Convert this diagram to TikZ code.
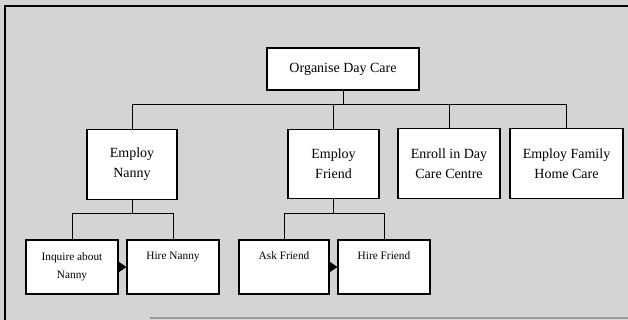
\documentclass[tikz,border=0pt]{standalone}
\usepackage{fontspec}
\setmainfont{Liberation Serif}
\usetikzlibrary{arrows.meta}

\begin{document}
\begin{tikzpicture}[x=0.75pt,y=-0.75pt,
    box/.style={draw,fill=white,line width=0.8pt,align=center,inner sep=0pt,
      minimum height=52pt,font=\fontsize{10.5}{15}\selectfont},
    task/.style={box,minimum height=40.5pt,minimum width=69pt,
      font=\fontsize{8.5}{13.5}\selectfont},
    link/.style={line width=0.7pt},
    seq/.style={line width=0.7pt,-{Triangle[length=6pt,width=8pt]}}]
    \useasboundingbox (0,0) rectangle (628,320);
    \fill[black!17] (0,0) rectangle (628,320);
    % frame of the scanned page
    \draw[line width=1.4pt] (5,320) -- (5,6) -- (628,6);
    \draw[black!40,line width=1pt] (150,318) -- (628,318);

    % top level
    \node[box,minimum width=114pt,minimum height=31.5pt] (root) at (343,69) {Organise Day Care};
    \node[box,minimum width=67.5pt] (nanny) at (132,164.5) {Employ\\Nanny};
    \node[box,minimum width=68.25pt] (friend) at (333.5,164) {Employ\\Friend};
    \node[box,minimum width=76.5pt] (enroll) at (449,163.5) {Enroll in Day\\Care Centre};
    \node[box,minimum width=84.75pt] (family) at (566.5,163.5) {Employ Family\\Home Care};

    % sub tasks
    \node[task] (inquire) at (72,267) {Inquire about\\Nanny};
    \node[task] (hirenanny) at (173,267) {Hire Nanny\\\strut};
    \node[task,minimum width=67.5pt] (ask) at (284,267) {Ask Friend\\\strut};
    \node[task] (hirefriend) at (384,267) {Hire Friend\\\strut};

    % tree connectors
    \coordinate (bus) at (0,104);
    \coordinate (nbus) at (0,213);
    \coordinate (fbus) at (0,213);
    \draw[link] (root) -- (root |- bus);
    \draw[link] (nanny) |- (bus -| family) -- (family);
    \draw[link] (friend) -- (friend |- bus);
    \draw[link] (enroll) -- (enroll |- bus);
    \draw[link] (nanny) -- (nanny |- nbus);
    \draw[link] (inquire) |- (nbus -| hirenanny) -- (hirenanny);
    \draw[link] (friend) -- (friend |- fbus);
    \draw[link] (ask) |- (fbus -| hirefriend) -- (hirefriend);

    % sequence arrows
    \draw[seq] (inquire) -- (hirenanny);
    \draw[seq] (ask) -- (hirefriend);
\end{tikzpicture}
\end{document}
